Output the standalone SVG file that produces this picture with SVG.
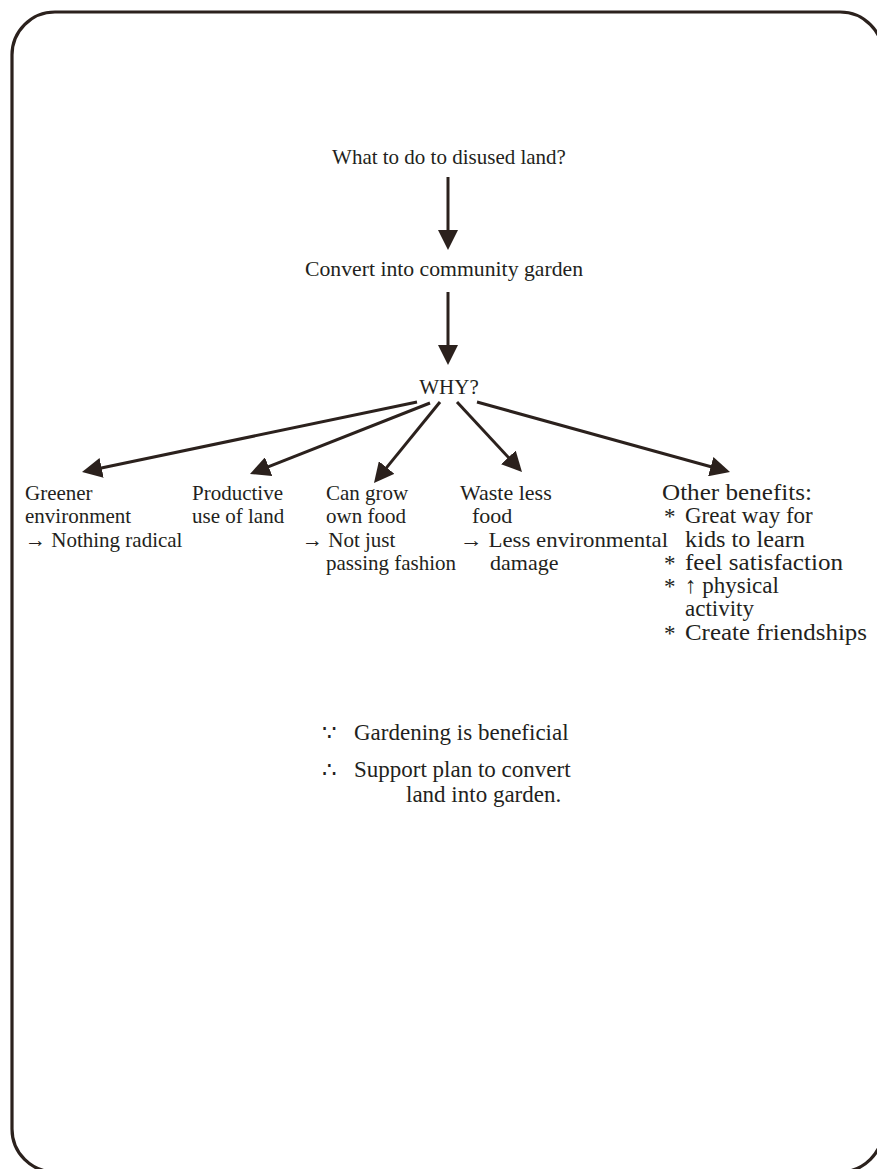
<svg xmlns="http://www.w3.org/2000/svg" width="877" height="1169" viewBox="0 0 877 1169">
<defs>
<style>
text{font-family:"Liberation Serif","Times New Roman",serif;font-size:21px;fill:#231f20}
.w{font-size:22px}
.o{font-size:23px}
.c{font-size:23px}
.ln{stroke:#2b211d;stroke-width:3;fill:none;marker-end:url(#ah)}
</style>
<marker id="ah" viewBox="0 0 20 20" refX="4" refY="10" markerWidth="20" markerHeight="20" markerUnits="userSpaceOnUse" orient="auto">
<path d="M0,0 L20,10 L0,20 z" fill="#2b211d"/>
</marker>
</defs>
<rect width="877" height="1169" fill="#fff"/>
<rect x="12" y="12" width="871" height="1160" rx="43" ry="43" fill="none" stroke="#2b211d" stroke-width="3.2"/>
<g id="q"><text x="449" y="164" text-anchor="middle">What to do to disused land?</text></g>
<g id="convert"><text x="444" y="276" text-anchor="middle" textLength="278" lengthAdjust="spacingAndGlyphs">Convert into community garden</text></g>
<g id="why"><text x="449" y="394" text-anchor="middle">WHY?</text></g>
<g id="greener"><text x="25" y="500">Greener</text><text x="25" y="523">environment</text><text x="25" y="547">→ Nothing radical</text></g>
<g id="productive"><text x="192" y="500">Productive</text><text x="192" y="523">use of land</text></g>
<g id="cangrow"><text x="326" y="500">Can grow</text><text x="326" y="523">own food</text><text x="302" y="547">→ Not just</text><text x="326" y="570">passing fashion</text></g>
<g id="waste"><text class="w" x="460" y="500">Waste less</text><text class="w" x="472" y="523">food</text><text class="w" x="460" y="547" textLength="208" lengthAdjust="spacingAndGlyphs">→ Less environmental</text><text class="w" x="490" y="570">damage</text></g>
<g id="other"><text class="o" x="662" y="500" textLength="150" lengthAdjust="spacingAndGlyphs">Other benefits:</text>
<text class="o" x="664" y="524">*</text><text class="o" x="685" y="523">Great way for</text><text class="o" x="685" y="547" textLength="120" lengthAdjust="spacingAndGlyphs">kids to learn</text>
<text class="o" x="664" y="571">*</text><text class="o" x="685" y="570" textLength="158" lengthAdjust="spacingAndGlyphs">feel satisfaction</text>
<text class="o" x="664" y="594">*</text><text class="o" x="685" y="593">↑ physical</text><text class="o" x="685" y="616">activity</text>
<text class="o" x="664" y="641">*</text><text class="o" x="685" y="640" textLength="182" lengthAdjust="spacingAndGlyphs">Create friendships</text></g>
<g id="conclusion"><text class="c" x="322" y="740">∵</text><text class="c" x="354" y="740">Gardening is beneficial</text>
<text class="c" x="322" y="777">∴</text><text class="c" x="354" y="777">Support plan to convert</text><text class="c" x="406" y="802">land into garden.</text></g>
<g id="connectors">
<line class="ln" x1="448" y1="177" x2="448" y2="234"/>
<line class="ln" x1="448" y1="292" x2="448" y2="349"/>
<line class="ln" x1="417" y1="402" x2="97.7" y2="468.7"/>
<line class="ln" x1="430" y1="403" x2="264.9" y2="468.1"/>
<line class="ln" x1="440" y1="402" x2="384.1" y2="470.6"/>
<line class="ln" x1="457" y1="402" x2="511.1" y2="460.3"/>
<line class="ln" x1="477" y1="402" x2="714.6" y2="467.7"/>
</g>
</svg>
